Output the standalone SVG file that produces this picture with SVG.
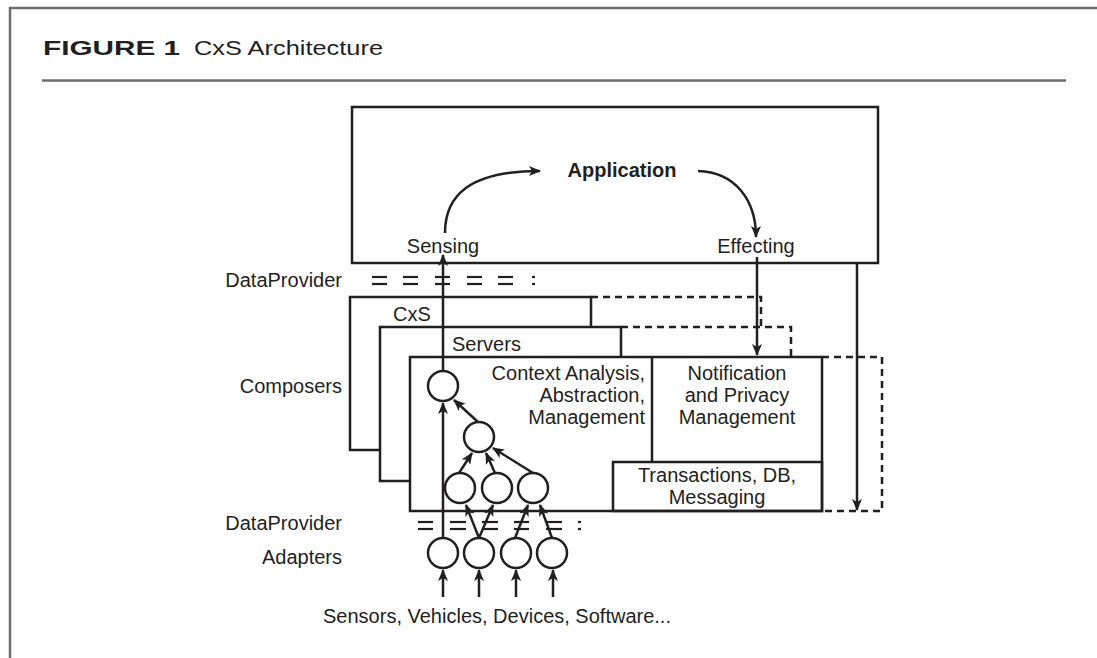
<svg xmlns="http://www.w3.org/2000/svg" width="1097" height="658" viewBox="0 0 1097 658">
  <style>
    text { font-family: "Liberation Sans", Arial, sans-serif; font-size: 20px; fill: #231f20; }
    .bold { font-weight: bold; }
    .box { fill: none; stroke: #231f20; stroke-width: 2.5; }
    .ln { fill: none; stroke: #231f20; stroke-width: 2.5; }
    .dash { fill: none; stroke: #231f20; stroke-width: 2.5; stroke-dasharray: 7 5; }
    .eq { stroke: #231f20; stroke-width: 2.2; }
    .node { fill: #ffffff; stroke: #231f20; stroke-width: 2.5; }
    .frame { stroke: #6d6e70; stroke-width: 2.5; fill: none; }
  </style>
  <defs>
    <marker id="ah" viewBox="0 0 12 10" refX="11" refY="5" markerWidth="12" markerHeight="10" orient="auto" markerUnits="userSpaceOnUse">
      <path d="M0,0 L12,5 L0,10 L3,5 z" fill="#231f20"/>
    </marker>
  </defs>

  <g id="frame">
    <line class="frame" x1="9" y1="8" x2="1097" y2="8"/>
    <line class="frame" x1="10" y1="7" x2="10" y2="658"/>
    <line class="frame" x1="42" y1="80.5" x2="1066" y2="80.5" stroke-width="2"/>
    <text x="43" y="55" class="bold" font-size="22" font-weight="900" textLength="137" lengthAdjust="spacingAndGlyphs">FIGURE 1</text>
    <text x="194" y="55" font-size="22" textLength="189" lengthAdjust="spacingAndGlyphs">CxS Architecture</text>
  </g>

  <g id="application">
    <rect class="box" x="352" y="107" width="526" height="156"/>
    <text x="622" y="177" class="bold" text-anchor="middle">Application</text>
    <text x="443" y="253" text-anchor="middle">Sensing</text>
    <text x="756" y="253" text-anchor="middle">Effecting</text>
  </g>

  <g id="cxs">
    <polyline class="box" points="591,327 591,297 350,297 350,450 380,450"/>
    <polyline class="dash" points="591,297 761,297 761,327"/>
    <text x="393" y="321">CxS</text>
  </g>

  <g id="servers">
    <polyline class="box" points="621,357 621,327 380,327 380,481 410,481"/>
    <polyline class="dash" points="621,327 791,327 791,357"/>
    <text x="452" y="351">Servers</text>
  </g>

  <g id="composers">
    <rect class="box" x="410" y="357" width="412" height="154"/>
    <polyline class="dash" points="822,357 882,357 882,511 822,511"/>
    <text x="645" y="380" text-anchor="end">Context Analysis,</text>
    <text x="645" y="402" text-anchor="end">Abstraction,</text>
    <text x="645" y="424" text-anchor="end">Management</text>
  </g>

  <g id="notification">
    <line class="ln" x1="652" y1="357" x2="652" y2="462"/>
    <text x="737" y="380" text-anchor="middle">Notification</text>
    <text x="737" y="402" text-anchor="middle">and Privacy</text>
    <text x="737" y="424" text-anchor="middle">Management</text>
  </g>

  <g id="transactions">
    <rect class="box" x="613" y="462" width="209" height="49"/>
    <text x="717" y="482" text-anchor="middle">Transactions, DB,</text>
    <text x="717" y="504" text-anchor="middle">Messaging</text>
  </g>

  <g id="labels">
    <text x="342" y="287" text-anchor="end">DataProvider</text>
    <text x="342" y="393" text-anchor="end">Composers</text>
    <text x="342" y="530" text-anchor="end">DataProvider</text>
    <text x="342" y="564" text-anchor="end">Adapters</text>
    <text x="497" y="623" text-anchor="middle">Sensors, Vehicles, Devices, Software...</text>
  </g>

  <g id="dataprovider-top">
    <line class="eq" x1="372" y1="277" x2="387" y2="277"/><line class="eq" x1="372" y1="284" x2="387" y2="284"/>
    <line class="eq" x1="403" y1="277" x2="418" y2="277"/><line class="eq" x1="403" y1="284" x2="418" y2="284"/>
    <line class="eq" x1="435" y1="277" x2="450" y2="277"/><line class="eq" x1="435" y1="284" x2="450" y2="284"/>
    <line class="eq" x1="467" y1="277" x2="482" y2="277"/><line class="eq" x1="467" y1="284" x2="482" y2="284"/>
    <line class="eq" x1="498" y1="277" x2="513" y2="277"/><line class="eq" x1="498" y1="284" x2="513" y2="284"/>
    <line class="eq" x1="532" y1="277" x2="535" y2="277"/><line class="eq" x1="532" y1="284" x2="535" y2="284"/>
  </g>

  <g id="dataprovider-bottom">
    <line class="eq" x1="418" y1="522" x2="433" y2="522"/><line class="eq" x1="418" y1="529" x2="433" y2="529"/>
    <line class="eq" x1="450" y1="522" x2="466" y2="522"/><line class="eq" x1="450" y1="529" x2="466" y2="529"/>
    <line class="eq" x1="482" y1="522" x2="498" y2="522"/><line class="eq" x1="482" y1="529" x2="498" y2="529"/>
    <line class="eq" x1="514" y1="522" x2="529" y2="522"/><line class="eq" x1="514" y1="529" x2="529" y2="529"/>
    <line class="eq" x1="546" y1="522" x2="562" y2="522"/><line class="eq" x1="546" y1="529" x2="562" y2="529"/>
    <line class="eq" x1="578" y1="522" x2="581" y2="522"/><line class="eq" x1="578" y1="529" x2="581" y2="529"/>
  </g>

  <g id="connectors">
    <!-- main sensing path -->
    <line class="ln" x1="443" y1="538" x2="443" y2="403" marker-end="url(#ah)"/>
    <line class="ln" x1="443" y1="371" x2="443" y2="255" marker-end="url(#ah)"/>
    <path class="ln" d="M445,233 C445,195 470,171 540,171" marker-end="url(#ah)"/>
    <path class="ln" d="M698,171 C735,172 756,200 756,237" marker-end="url(#ah)"/>
    <line class="ln" x1="757" y1="257" x2="757" y2="355" marker-end="url(#ah)"/>
    <line class="ln" x1="857" y1="263" x2="857" y2="510" marker-end="url(#ah)"/>
    <!-- tree arrows -->
    <line class="ln" x1="478" y1="422" x2="454" y2="400" marker-end="url(#ah)"/>
    <line class="ln" x1="459" y1="473" x2="472" y2="453" marker-end="url(#ah)"/>
    <line class="ln" x1="495" y1="473" x2="486" y2="453" marker-end="url(#ah)"/>
    <line class="ln" x1="533" y1="473" x2="493" y2="448" marker-end="url(#ah)"/>
    <!-- adapter to composer -->
    <line class="ln" x1="479" y1="538" x2="466" y2="505" marker-end="url(#ah)"/>
    <line class="ln" x1="479" y1="538" x2="493" y2="505" marker-end="url(#ah)"/>
    <line class="ln" x1="515" y1="538" x2="528" y2="505" marker-end="url(#ah)"/>
    <line class="ln" x1="552" y1="538" x2="540" y2="505" marker-end="url(#ah)"/>
    <!-- inputs -->
    <line class="ln" x1="443" y1="597" x2="443" y2="570" marker-end="url(#ah)"/>
    <line class="ln" x1="479" y1="597" x2="479" y2="570" marker-end="url(#ah)"/>
    <line class="ln" x1="516" y1="597" x2="516" y2="570" marker-end="url(#ah)"/>
    <line class="ln" x1="553" y1="597" x2="553" y2="570" marker-end="url(#ah)"/>
  </g>

  <g id="composer-nodes">
    <circle class="node" cx="443" cy="386" r="15"/>
    <circle class="node" cx="479" cy="437" r="15"/>
    <circle class="node" cx="460" cy="488" r="15"/>
    <circle class="node" cx="497" cy="488" r="15"/>
    <circle class="node" cx="533" cy="488" r="15"/>
  </g>

  <g id="adapter-nodes">
    <circle class="node" cx="443" cy="553" r="15"/>
    <circle class="node" cx="479" cy="553" r="15"/>
    <circle class="node" cx="516" cy="553" r="15"/>
    <circle class="node" cx="552" cy="553" r="15"/>
  </g>
</svg>
